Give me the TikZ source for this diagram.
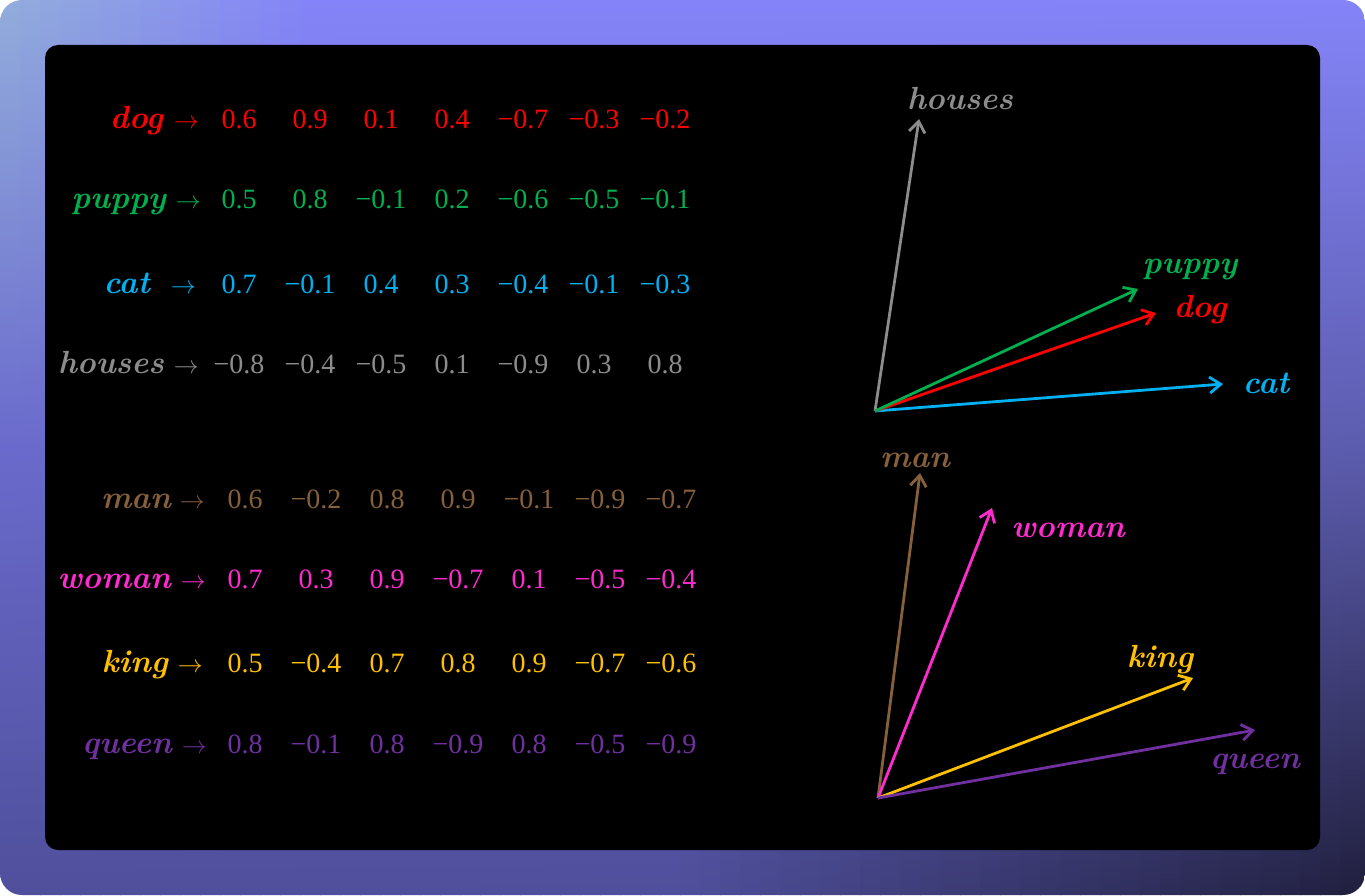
\documentclass[tikz,border=0pt]{standalone}
\usepackage{fontspec}
\usetikzlibrary{arrows.meta}

% font of the numbers
\newfontfamily\numfont{Liberation Serif}

% colours of the words
\definecolor{dogred}{HTML}{FF0000}
\definecolor{puppygreen}{HTML}{00B050}
\definecolor{catblue}{HTML}{00B0F0}
\definecolor{housegray}{HTML}{8C8C8C}
\definecolor{manbrown}{HTML}{86603A}
\definecolor{womanpink}{HTML}{FF2BCF}
\definecolor{kinggold}{HTML}{FFC000}
\definecolor{queenpurple}{HTML}{7030A0}
% colours of the frame
\definecolor{bglight}{HTML}{92ACDC}
\definecolor{bgtop}{HTML}{8484F8}
\definecolor{bgmidl}{HTML}{6A6ACC}
\definecolor{bgmidr}{HTML}{5C5CAE}
\definecolor{bgbottom}{HTML}{4F4F9C}
\definecolor{bgdark}{HTML}{1F1E3C}

\tikzset{
  word/.style={font=\fontsize{32}{36}\selectfont\bfseries\itshape, inner sep=0pt, anchor=base},
  num/.style={font=\fontsize{28}{32}\numfont, inner sep=0pt, anchor=base},
  rowlabel/.style={font=\fontsize{32}{36}\selectfont, inner sep=0pt, anchor=base east},
  vec/.style={line width=2.8pt, -{Straight Barb[length=11pt,width=16pt]}},
}

\begin{document}
\begin{tikzpicture}[x=1pt, y=-1pt]
    % Canvas and frame
    \useasboundingbox (0,0) rectangle (1365,896);
    \fill[white] (0,0) rectangle (1365,896);
    \begin{scope}
        \clip[rounded corners=22pt] (0,0) rectangle (1365,895);
        % the frame is shaded in thin vertical strips
        \foreach \k in {0,...,68} {
            \pgfmathtruncatemacro\pt{max(0,100-\k*20/3)}
            \pgfmathtruncatemacro\pm{100*\k/68}
            \pgfmathtruncatemacro\pb{max(0,min(100,(\k*20-660)/7))}
            \shade[top color=bglight!\pt!bgtop, bottom color=bgdark!\pb!bgbottom,
                   middle color=bgmidr!\pm!bgmidl] (\k*20,0) rectangle ++(21,896);
        }
    \end{scope}
    \fill[black, rounded corners=13pt] (45,45) rectangle (1320,850);

    % Width of one column of numbers
    \def\colw{71}

    % First group of words
    \def\colx{239}
    \node[rowlabel, dogred] (dog) at (199,129) {{\bfseries\itshape dog}\hspace{11pt}$\rightarrow$};
    \foreach \v [count=\i] in {0.6,0.9,0.1,0.4,−0.7,−0.3,−0.2}
        \node[num, dogred] (dog-\i) at ({\colx+(\i-1)*\colw},129) {\v};
    \node[rowlabel, puppygreen] (puppy) at (201,209) {{\bfseries\itshape puppy}\hspace{10pt}$\rightarrow$};
    \foreach \v [count=\i] in {0.5,0.8,−0.1,0.2,−0.6,−0.5,−0.1}
        \node[num, puppygreen] (puppy-\i) at ({\colx+(\i-1)*\colw},209) {\v};
    \node[rowlabel, catblue] (cat) at (196,293) {{\bfseries\itshape cat}\hspace{21pt}$\rightarrow$};
    \foreach \v [count=\i] in {0.7,−0.1,0.4,0.3,−0.4,−0.1,−0.3}
        \node[num, catblue] (cat-\i) at ({\colx+(\i-1)*\colw},293) {\v};
    \node[rowlabel, housegray] (houses) at (199,373) {{\bfseries\itshape houses}\hspace{10pt}$\rightarrow$};
    \foreach \v [count=\i] in {−0.8,−0.4,−0.5,0.1,−0.9,0.3,0.8}
        \node[num, housegray] (houses-\i) at ({\colx+(\i-1)*\colw},373) {\v};

    % Second group of words
    \def\colx{245}
    \node[rowlabel, manbrown] (man) at (205,508) {{\bfseries\itshape man}\hspace{9pt}$\rightarrow$};
    \foreach \v [count=\i] in {0.6,−0.2,0.8,0.9,−0.1,−0.9,−0.7}
        \node[num, manbrown] (man-\i) at ({\colx+(\i-1)*\colw},508) {\v};
    \node[rowlabel, womanpink] (woman) at (206,588) {{\bfseries\itshape woman}\hspace{10pt}$\rightarrow$};
    \foreach \v [count=\i] in {0.7,0.3,0.9,−0.7,0.1,−0.5,−0.4}
        \node[num, womanpink] (woman-\i) at ({\colx+(\i-1)*\colw},588) {\v};
    \node[rowlabel, kinggold] (king) at (203,672) {{\bfseries\itshape king}\hspace{10pt}$\rightarrow$};
    \foreach \v [count=\i] in {0.5,−0.4,0.7,0.8,0.9,−0.7,−0.6}
        \node[num, kinggold] (king-\i) at ({\colx+(\i-1)*\colw},672) {\v};
    \node[rowlabel, queenpurple] (queen) at (207,753) {{\bfseries\itshape queen}\hspace{10pt}$\rightarrow$};
    \foreach \v [count=\i] in {0.8,−0.1,0.8,−0.9,0.8,−0.5,−0.9}
        \node[num, queenpurple] (queen-\i) at ({\colx+(\i-1)*\colw},753) {\v};

    % Vectors of the first group
    \coordinate (o1) at (875,411);
    \coordinate (houses-tip) at (919,119);
    \coordinate (puppy-tip) at (1138,289);
    \coordinate (dog-tip) at (1156,313);
    \coordinate (cat-tip) at (1223,384);
    \draw[vec, housegray] (o1) -- (houses-tip);
    \draw[vec, catblue] (o1) -- (cat-tip);
    \draw[vec, dogred] (o1) -- (dog-tip);
    \draw[vec, puppygreen] (o1) -- (puppy-tip);
    \node[word, housegray] (houses-lbl) at (960,110) {houses};
    \node[word, puppygreen] (puppy-lbl) at (1190,273) {puppy};
    \node[word, dogred] (dog-lbl) at (1200,317) {dog};
    \node[word, catblue] (cat-lbl) at (1266,393) {cat};

    % Vectors of the second group
    \coordinate (o2) at (878,798);
    \coordinate (man-tip) at (920,473);
    \coordinate (woman-tip) at (992,508);
    \coordinate (king-tip) at (1193,678);
    \coordinate (queen-tip) at (1255,730);
    \draw[vec, manbrown] (o2) -- (man-tip);
    \draw[vec, womanpink] (o2) -- (woman-tip);
    \draw[vec, kinggold] (o2) -- (king-tip);
    \draw[vec, queenpurple] (o2) -- (queen-tip);
    \node[word, manbrown] (man-lbl) at (915,467) {man};
    \node[word, womanpink] (woman-lbl) at (1068,537) {woman};
    \node[word, kinggold] (king-lbl) at (1160,667) {king};
    \node[word, queenpurple] (queen-lbl) at (1255,768) {queen};
\end{tikzpicture}
\end{document}
